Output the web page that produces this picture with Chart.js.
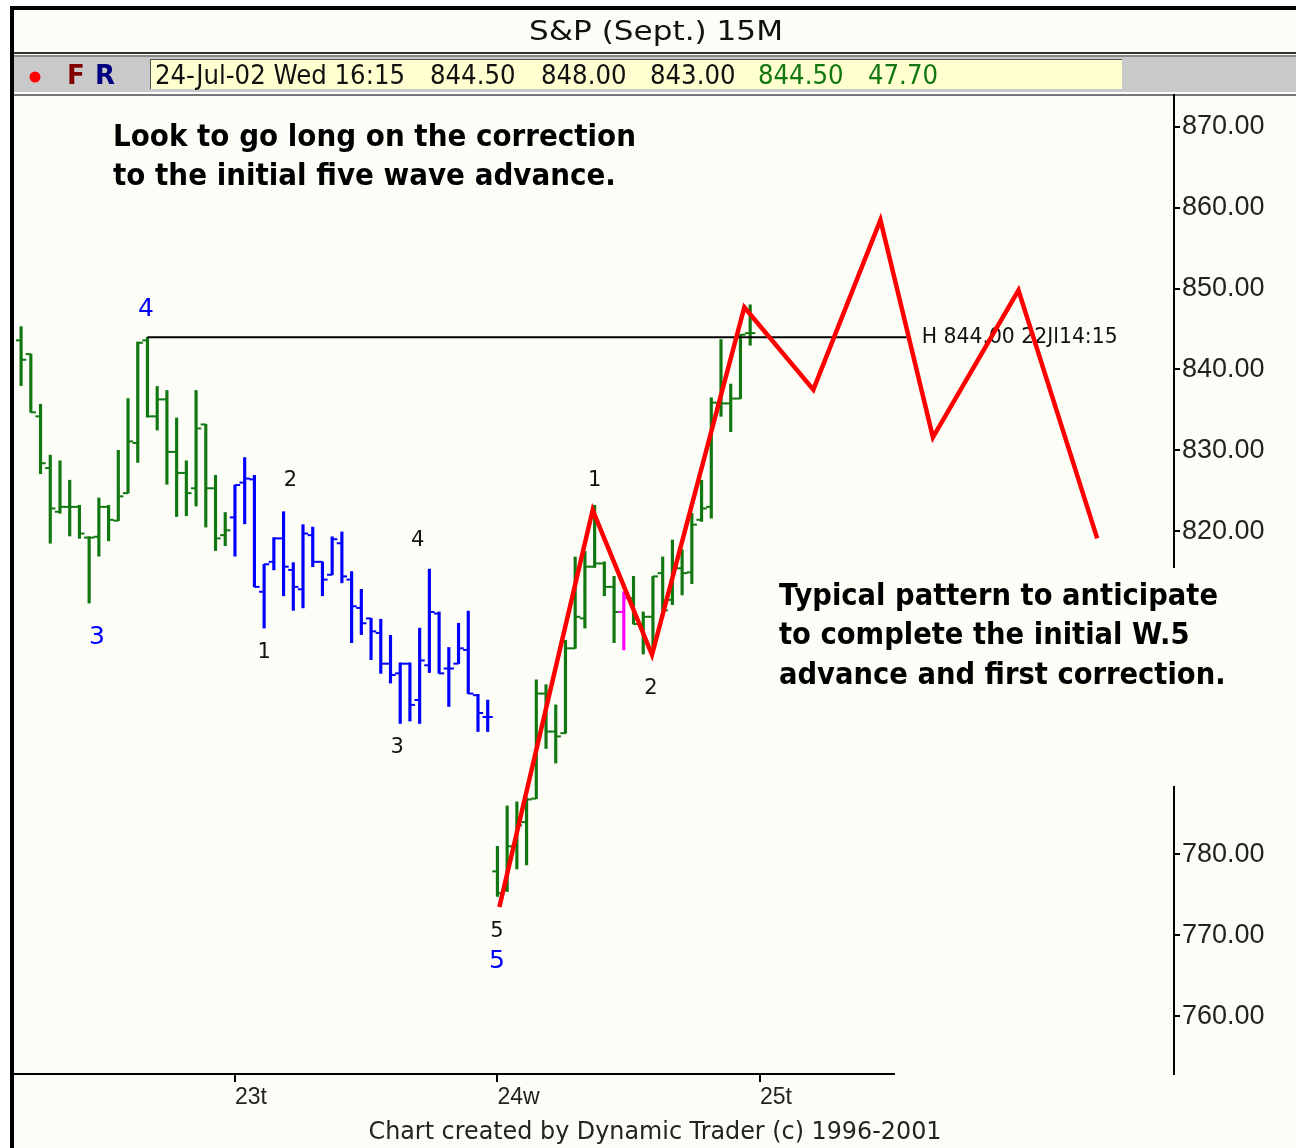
<!DOCTYPE html>
<html>
<head>
<meta charset="utf-8">
<script src="https://cdn.jsdelivr.net/npm/chart.js@4.4.1/dist/chart.umd.min.js"></script>
<style>
  html, body { margin: 0; padding: 0; background: #fff; }
  #wrap { width: 1296px; height: 1148px; position: relative; }
</style>
</head>
<body>
<div id="wrap"><canvas id="spChart"></canvas></div>
<script>
// S&P Sept. futures, 15 minute bars, 22-Jul afternoon through 24-Jul close
const barOpen = [
  843.6, 841.9, 834.2, 827.8, 822.4, 823.0, 823.0, 819.2, 819.3, 823.0, 821.3,
  824.7, 830.9, 843.6, 834.2, 836.3, 829.8, 827.2, 825.3, 833.2, 825.3, 819.5,
  821.7, 826.0, 826.4, 812.5, 816.2, 819.1, 815.2, 812.8, 819.5, 816.2, 814.6,
  818.5, 814.0, 810.5, 809.2, 807.4, 803.6, 802.4, 803.6, 799.1, 803.4, 809.8,
  803.0, 803.6, 805.3, 799.7, 797.0,
  777.9, 775.6, 781.0, 784.0, 786.9, 799.9, 795.2, 795.0, 805.5, 809.2, 815.6,
  816.0, 813.1, 810.0, 811.7, 808.5, 809.4, 814.8, 811.5, 815.4, 814.9, 821.4,
  823.0, 835.8, 835.8, 836.4, 844.5
];
const barHigh = [
  845.3, 841.9, 835.7, 829.4, 828.7, 826.3, 823.2, 819.3, 824.1, 823.2, 830.0,
  836.4, 843.4, 844.0, 837.9, 837.4, 834.0, 828.7, 837.4, 833.2, 826.9, 822.3,
  825.7, 829.1, 826.9, 815.9, 819.2, 822.4, 816.1, 820.8, 820.5, 816.2, 819.3,
  819.9, 815.0, 812.8, 809.2, 809.1, 807.1, 803.7, 803.7, 808.0, 815.3, 810.0,
  805.6, 808.6, 810.1, 799.8, 799.1,
  781.0, 786.0, 786.5, 787.0, 801.6, 801.0, 798.5, 806.5, 816.8, 817.5, 823.2,
  816.2, 814.4, 812.5, 814.4, 810.0, 814.4, 816.8, 818.9, 817.7, 822.2, 826.3,
  836.5, 843.7, 838.2, 844.3, 848.0
];
const barLow = [
  838.0, 834.7, 827.1, 818.5, 822.2, 819.4, 819.1, 811.1, 816.9, 818.8, 821.3,
  824.7, 828.5, 834.1, 832.5, 825.8, 821.8, 821.9, 823.1, 820.5, 817.6, 818.2,
  816.9, 820.9, 813.1, 808.0, 815.2, 812.0, 810.2, 810.5, 815.6, 812.0, 814.6,
  813.6, 806.2, 807.2, 804.1, 802.4, 801.2, 796.2, 796.5, 796.2, 802.5, 802.4,
  798.3, 803.6, 799.9, 795.2, 795.2,
  774.8, 775.4, 778.2, 778.7, 786.9, 793.1, 791.3, 795.0, 805.5, 808.0, 815.5,
  812.0, 806.2, 805.3, 808.5, 804.8, 804.9, 810.2, 810.9, 812.1, 813.5, 821.2,
  821.6, 834.2, 832.3, 836.4, 843.0
];
const barClose = [
  841.2, 834.7, 828.4, 822.8, 823.0, 823.0, 819.7, 819.2, 823.0, 821.4, 824.3,
  831.1, 843.3, 834.2, 836.3, 829.8, 827.2, 824.7, 832.7, 825.3, 819.1, 820.1,
  825.7, 826.5, 813.1, 815.9, 819.1, 815.6, 813.1, 819.7, 816.2, 814.0, 819.0,
  814.4, 810.7, 808.6, 807.6, 803.6, 802.2, 803.6, 798.5, 804.0, 810.0, 802.4,
  803.0, 805.5, 799.9, 797.5, 797.0,
  775.2, 781.0, 783.6, 786.8, 799.9, 795.2, 794.6, 805.5, 809.4, 815.6, 816.0,
  813.1, 810.0, 811.7, 808.5, 809.4, 814.4, 810.2, 815.6, 814.8, 820.8, 822.8,
  835.9, 835.8, 836.4, 844.3, 844.5
];
// bar colour runs: [number of bars, colour]
const barRuns = [[22, '#117711'], [27, '#0000ff'], [13, '#117711'], [1, '#ff00ff'], [13, '#117711']];

const dayTicks = [22, 49, 76];
const dayLabels = ['23t', '24w', '25t'];
const priceTicks = [760, 770, 780, 820, 830, 840, 850, 860, 870];

// projected path for the rest of the advance and first correction
const projX = [49.2, 58.8, 64.9, 74.4, 81.5, 88.4, 93.8, 102.6, 110.7];
const projY = [773.5, 822.6, 804.7, 847.7, 837.5, 858.5, 831.6, 849.8, 819.1];

const prevHigh = 844.0;
const prevHighBar = 13;
const prevHighEnd = 91.1;
const prevHighLabel = 'H 844.00 22Jl14:15';

// wave counts: text, bar position, price, degree (1 = blue larger degree)
const waveText = ['4', '3', '1', '2', '3', '4', '5', '5', '1', '2'];
const waveAt = [12.85, 7.8, 25.0, 27.7, 38.7, 40.8, 48.96, 48.96, 59.0, 64.8];
const wavePrice = [847.4, 806.8, 805.0, 826.2, 793.2, 818.8, 770.5, 766.7, 826.3, 800.5];
const waveDegree = [1, 1, 0, 0, 0, 0, 0, 1, 0, 0];

const noteTop = ['Look to go long on the correction', 'to the initial five wave advance.'];
const noteBottom = ['Typical pattern to anticipate', 'to complete the initial W.5', 'advance and first correction.'];

const last = barOpen.length - 1;
const quoteFields = ['24-Jul-02 Wed 16:15', barOpen[last].toFixed(2), barHigh[last].toFixed(2),
  barLow[last].toFixed(2), barClose[last].toFixed(2), '47.70'];

const CREAM = '#fdfdf7';
const SANS = "'DejaVu Sans', sans-serif";
const AXISFONT = "'Liberation Sans', Arial, sans-serif";

const barColors = [];
barRuns.forEach(([n, c]) => { for (let k = 0; k < n; k++) barColors.push(c); });
const idx = barOpen.map((_, i) => i);

// draws text squeezed/stretched horizontally to a given width
function fitText(ctx, text, x, y, width, font, color, align) {
  ctx.save();
  ctx.font = font;
  const sx = width / ctx.measureText(text).width;
  ctx.translate(x, y);
  ctx.scale(sx, 1);
  ctx.fillStyle = color;
  ctx.textAlign = align || 'left';
  ctx.textBaseline = 'middle';
  ctx.fillText(text, 0, 0);
  ctx.restore();
  return sx;
}

function drawLines(ctx, lines, x, y, gap, font, firstWidth) {
  ctx.save();
  ctx.font = font;
  const sx = firstWidth / ctx.measureText(lines[0]).width;
  ctx.fillStyle = '#000';
  ctx.textBaseline = 'middle';
  lines.forEach((t, i) => {
    ctx.save();
    ctx.translate(x, y + i * gap);
    ctx.scale(sx, 1);
    ctx.fillText(t, 0, 0);
    ctx.restore();
  });
  ctx.restore();
}

const frame = {
  id: 'frame',
  beforeDraw(chart) {
    const { ctx, width, height } = chart;
    ctx.save();
    ctx.fillStyle = '#fff';
    ctx.fillRect(0, 0, width, height);
    ctx.fillStyle = CREAM;
    ctx.fillRect(14, 10, width - 14, height - 10);
    // outer black border
    ctx.fillStyle = '#000';
    ctx.fillRect(10, 6, width - 10, 4);
    ctx.fillRect(10, 6, 4, height - 6);
    // title band bottom
    ctx.fillStyle = '#333';
    ctx.fillRect(14, 52, width - 14, 2);
    // info bar
    ctx.fillStyle = '#c9c9c9';
    ctx.fillRect(14, 55, width - 14, 37);
    ctx.fillStyle = '#888';
    ctx.fillRect(14, 55, width - 14, 2);
    ctx.fillStyle = '#ffffcf';
    ctx.fillRect(150, 59, 972, 30);
    ctx.fillStyle = '#555';
    ctx.fillRect(150, 59, 972, 1);
    ctx.fillRect(150, 59, 1, 30);
    ctx.fillStyle = '#fff';
    ctx.fillRect(14, 92, width - 14, 2);
    ctx.fillStyle = '#777';
    ctx.fillRect(14, 94, width - 14, 2);
    // red dot, F R buttons
    ctx.fillStyle = '#ff0000';
    ctx.beginPath();
    ctx.arc(35, 77, 5.5, 0, Math.PI * 2);
    ctx.fill();
    ctx.font = "bold 26px " + SANS;
    ctx.textBaseline = 'middle';
    ctx.fillStyle = '#800000';
    ctx.fillText('F', 67, 77);
    ctx.fillStyle = '#000080';
    ctx.fillText('R', 95, 77);
    ctx.restore();

    fitText(ctx, 'S&P (Sept.) 15M', 656, 33, 254, "26px " + SANS, '#111', 'center');
    // quote line
    const xs = [155, 430, 541, 650, 758, 868];
    ctx.save();
    ctx.font = "26px " + SANS;
    const sx = 250 / ctx.measureText(quoteFields[0]).width;
    ctx.textBaseline = 'middle';
    quoteFields.forEach((t, i) => {
      ctx.save();
      ctx.translate(xs[i], 77);
      ctx.scale(sx, 1);
      ctx.fillStyle = i >= 4 ? '#117711' : '#111';
      ctx.fillText(t, 0, 0);
      ctx.restore();
    });
    ctx.restore();
    fitText(ctx, 'Chart created by Dynamic Trader (c) 1996-2001', 655, 1133, 573, "24px " + SANS, '#222', 'center');
  },
  beforeDatasetsDraw(chart) {
    const { ctx, chartArea, scales } = chart;
    // partial time axis line
    ctx.save();
    ctx.fillStyle = '#000';
    const xEnd = scales.x.getPixelForValue(89.9);
    ctx.fillRect(chartArea.left, chartArea.bottom - 1, xEnd - chartArea.left, 2);
    ctx.restore();
    const hx = scales.x.getPixelForValue(prevHighEnd);
    const hy = scales.y.getPixelForValue(prevHigh);
    fitText(ctx, prevHighLabel, hx + 15, hy, 196, "22px " + SANS, '#111', 'left');
  },
  afterDraw(chart) {
    const { ctx, scales } = chart;
    // wave labels
    ctx.save();
    ctx.textAlign = 'center';
    ctx.textBaseline = 'middle';
    waveText.forEach((t, i) => {
      const big = waveDegree[i] === 1;
      ctx.font = (big ? '25px ' : '21px ') + SANS;
      ctx.fillStyle = big ? '#0000ff' : '#111';
      ctx.fillText(t, scales.x.getPixelForValue(waveAt[i]), scales.y.getPixelForValue(wavePrice[i]));
    });
    ctx.restore();
    // annotations
    drawLines(ctx, noteTop, 113, 138, 39, "bold 30px " + SANS, 523);
    ctx.save();
    ctx.fillStyle = CREAM;
    ctx.fillRect(768, 568, 480, 218);
    ctx.restore();
    drawLines(ctx, noteBottom, 779, 597, 39.5, "bold 30px " + SANS, 439);
  }
};

new Chart(document.getElementById('spChart'), {
  type: 'bar',
  data: {
    datasets: [
      {
        type: 'line',
        data: projX.map((x, i) => ({ x, y: projY[i] })),
        borderColor: '#ff0000',
        borderWidth: 4.5,
        pointRadius: 0,
        tension: 0,
        order: 0
      },
      {
        type: 'line',
        data: [{ x: prevHighBar, y: prevHigh }, { x: prevHighEnd, y: prevHigh }],
        borderColor: '#000',
        borderWidth: 2,
        pointRadius: 0,
        order: 1
      },
      {
        type: 'line',
        showLine: false,
        data: idx.map(i => ({ x: i - 0.26, y: barOpen[i] })),
        pointStyle: 'line',
        pointRadius: 2.6,
        pointBorderWidth: 2,
        pointBorderColor: barColors,
        order: 2
      },
      {
        type: 'line',
        showLine: false,
        data: idx.map(i => ({ x: i + 0.26, y: barClose[i] })),
        pointStyle: 'line',
        pointRadius: 2.6,
        pointBorderWidth: 2,
        pointBorderColor: barColors,
        order: 2
      },
      {
        type: 'bar',
        data: idx.map(i => ({ x: i, y: [barLow[i], barHigh[i]] })),
        backgroundColor: barColors,
        barThickness: 2.5,
        order: 3
      }
    ]
  },
  options: {
    responsive: true,
    maintainAspectRatio: false,
    animation: false,
    layout: { padding: { left: 14, top: 95, right: 0, bottom: 0 } },
    plugins: { legend: { display: false }, tooltip: { enabled: false } },
    scales: {
      x: {
        type: 'linear',
        min: -0.73,
        max: 118.6,
        offset: false,
        border: { display: false },
        grid: { offset: false, drawOnChartArea: false, tickLength: 8, color: '#000', lineWidth: 2 },
        ticks: {
          color: '#222',
          font: { family: AXISFONT, size: 23 },
          align: 'start',
          padding: 2,
          maxRotation: 0,
          autoSkip: false,
          callback: v => dayLabels[dayTicks.indexOf(v)] ?? ''
        },
        afterBuildTicks: s => { s.ticks = dayTicks.map(v => ({ value: v })); },
        afterFit: s => { s.height = 74; }
      },
      y: {
        type: 'linear',
        position: 'right',
        min: 752.83,
        max: 873.96,
        border: { display: true, color: '#000', width: 2 },
        grid: { offset: false, drawOnChartArea: false, tickLength: 6, color: '#000', lineWidth: 2 },
        ticks: {
          color: '#222',
          font: { family: AXISFONT, size: 27 },
          padding: 2,
          callback: v => v.toFixed(2)
        },
        afterBuildTicks: s => { s.ticks = priceTicks.map(v => ({ value: v })); },
        afterFit: s => { s.width = 122; }
      }
    }
  },
  plugins: [frame]
});
</script>
</body>
</html>
